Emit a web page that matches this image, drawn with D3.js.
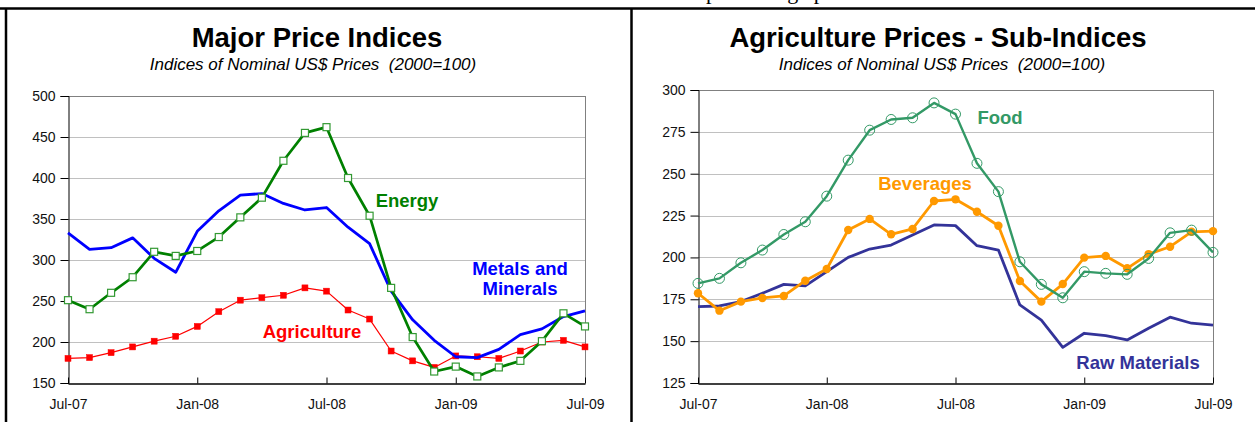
<!DOCTYPE html>
<html><head><meta charset="utf-8">
<script src="https://cdn.jsdelivr.net/npm/d3@7"></script>
<style>
html,body{margin:0;padding:0;background:#fff;}
svg{display:block;font-family:"Liberation Sans",Arial,sans-serif;}
.pre{white-space:pre;}
</style></head>
<body>
<svg id="c" width="1255" height="422"></svg>
<script>
// ---- data ----
const months = ["Jul-07","Aug-07","Sep-07","Oct-07","Nov-07","Dec-07","Jan-08","Feb-08","Mar-08","Apr-08","May-08","Jun-08",
  "Jul-08","Aug-08","Sep-08","Oct-08","Nov-08","Dec-08","Jan-09","Feb-09","Mar-09","Apr-09","May-09","Jun-09","Jul-09"];
const tickMonths = ["Jul-07","Jan-08","Jul-08","Jan-09","Jul-09"];

const leftTicks = [150,200,250,300,350,400,450,500];
const energy = [251,240,260,279,310,305,311,328,352,376,421,455,462,400,354,266,206,164,170,158,169,177,201,235,219];
const metals = [333,313,315,327,302,285,335,360,379,381,369,361,364,340,320,262,227,202,182,181,191,209,216,231,238];
const agriculture = [180,181,187,194,201,207,219,237,251,254,257,266,262,239,228,189,177,169,183,182,180,189,200,202,194];

const rightTicks = [125,150,175,200,225,250,275,300];
const food = [184.5,187.5,196.8,204.4,213.7,221.3,236.6,258.1,276,282.4,283.4,292.3,285.6,256.2,239.3,197.4,183.9,175.9,191.5,190.5,189.9,199.4,214.7,216.3,203];
const beverages = [178.6,168.2,173.6,175.8,177,186.1,193.1,216.4,223,213.8,217,233.7,234.7,227.3,218.9,185.9,173.6,184.1,199.9,200.9,193.5,202,206.4,215.3,215.7];
const rawMaterials = [170.6,171,173.6,178.6,183.9,183,191.5,200,205,207.4,213.4,219.4,219,207,204.4,171.6,162.6,146.3,154.7,153.3,150.7,157.7,164.3,160.7,159.6];

const svg = d3.select("#c");

// page frame pieces (text of the page above, cut off by the top edge)
svg.append("text").attr("x",706).attr("y",-1.5).attr("font-family","Liberation Serif,serif")
  .attr("font-size",22).attr("letter-spacing",5).attr("fill","#000").text("pricing p");
svg.append("line").attr("x1",0).attr("x2",1255).attr("y1",8.5).attr("y2",8.5).attr("stroke","#000").attr("stroke-width",2.5);
svg.append("line").attr("x1",6).attr("x2",6).attr("y1",8).attr("y2",422).attr("stroke","#000").attr("stroke-width",2.5);
svg.append("line").attr("x1",631.5).attr("x2",631.5).attr("y1",8).attr("y2",422).attr("stroke","#000").attr("stroke-width",2.5);

function panel(opt){
  const g = svg.append("g");
  const x = d3.scalePoint().domain(months).range([opt.x0,opt.x1]);
  const y = d3.scaleLinear().domain(opt.domain).range([383,opt.yTop]);
  // titles
  g.append("text").attr("x",opt.tcx).attr("y",47).attr("text-anchor","middle")
    .attr("font-size",27.5).attr("font-weight","bold").attr("fill","#000").text(opt.title);
  g.append("text").attr("class","pre").attr("x",opt.scx).attr("y",70).attr("text-anchor","middle")
    .attr("font-size",17).attr("font-style","italic").attr("fill","#000").text("Indices of Nominal US$ Prices  (2000=100)");
  // grid
  g.selectAll(".grid").data(opt.ticks.slice(1)).join("line")
    .attr("x1",opt.x0).attr("x2",opt.x1).attr("y1",d=>Math.round(y(d))+0.5).attr("y2",d=>Math.round(y(d))+0.5)
    .attr("stroke",d=>d===opt.domain[1]?"#808080":"#c0c0c0").attr("stroke-width",1);
  // right frame
  g.append("line").attr("x1",opt.x1+0.5).attr("x2",opt.x1+0.5).attr("y1",y(opt.domain[1])).attr("y2",383)
    .attr("stroke","#808080");
  // y axis
  const ya = g.append("g").attr("transform",`translate(${opt.x0+0.5},0)`)
    .call(d3.axisLeft(y).tickValues(opt.ticks).tickSize(8).tickPadding(5).tickFormat(d3.format("d")));
  ya.attr("font-size",null).attr("font-family",null);
  ya.select(".domain").attr("stroke","#000");
  ya.selectAll("line").attr("stroke","#000");
  ya.selectAll("text").attr("font-size",14).attr("fill","#111").attr("font-family","Liberation Sans,Arial,sans-serif");
  // x axis
  const xa = g.append("g").attr("transform","translate(0,383.5)")
    .call(d3.axisBottom(x).tickValues(tickMonths).tickSizeInner(-6).tickSizeOuter(0).tickPadding(16));
  xa.attr("font-size",null).attr("font-family",null);
  xa.select(".domain").attr("stroke","#000").attr("stroke-width",1.5);
  xa.selectAll("line").attr("stroke","#000");
  xa.selectAll("text").attr("font-size",14).attr("fill","#111").attr("font-family","Liberation Sans,Arial,sans-serif");
  return {g,x,y};
}

function series(p, vals, color, width, marker){
  const line = d3.line().x((d,i)=>p.x(months[i])).y(d=>p.y(d));
  p.g.append("path").datum(vals).attr("d",line).attr("fill","none").attr("stroke",color)
    .attr("stroke-width",width).attr("stroke-linejoin","round");
  if(!marker) return;
  const m = p.g.append("g");
  vals.forEach((v,i)=>{
    const cx = p.x(months[i]), cy = p.y(v);
    if(marker.type==="square"){
      m.append("rect").attr("x",cx-marker.s/2).attr("y",cy-marker.s/2).attr("width",marker.s).attr("height",marker.s)
        .attr("fill",marker.fill).attr("stroke",marker.stroke).attr("stroke-width",marker.sw||0);
    } else {
      m.append("circle").attr("cx",cx).attr("cy",cy).attr("r",marker.r)
        .attr("fill",marker.fill).attr("stroke",marker.stroke).attr("stroke-width",marker.sw||0);
    }
  });
}

function label(p, lines, x, y0, color){
  lines.forEach((t,i)=>p.g.append("text").attr("x",x).attr("y",y0+i*20).attr("text-anchor","middle")
    .attr("font-size",18.5).attr("font-weight","bold").attr("fill",color).text(t));
}

// left panel
const L = panel({x0:68,x1:585,yTop:96,domain:[150,500],ticks:leftTicks,title:"Major Price Indices",tcx:317,scx:313});
series(L, agriculture, "#ff0000", 1.2, {type:"square",s:6,fill:"#ff0000",stroke:"#ff0000",sw:0.5});
series(L, metals, "#0000ff", 2.8, null);
series(L, energy, "#008000", 2.7, {type:"square",s:7,fill:"#fff",stroke:"#339933",sw:1.2});
label(L, ["Energy"], 407, 207, "#008000");
label(L, ["Metals and","Minerals"], 520, 275, "#0000ff");
label(L, ["Agriculture"], 312, 338, "#ff0000");

// right panel
const R = panel({x0:698,x1:1213,yTop:90,domain:[125,300],ticks:rightTicks,title:"Agriculture Prices - Sub-Indices",tcx:938,scx:942});
series(R, rawMaterials, "#333399", 2.8, null);
series(R, beverages, "#ff9900", 2.8, {type:"circle",r:4.2,fill:"#ff9900",stroke:"#ff9900",sw:0});
series(R, food, "#339966", 2.4, {type:"circle",r:5,fill:"none",stroke:"#339966",sw:1});
label(R, ["Food"], 1000, 124, "#339966");
label(R, ["Beverages"], 925, 190, "#ff9900");
label(R, ["Raw Materials"], 1138, 369, "#333399");
</script>
</body></html>
